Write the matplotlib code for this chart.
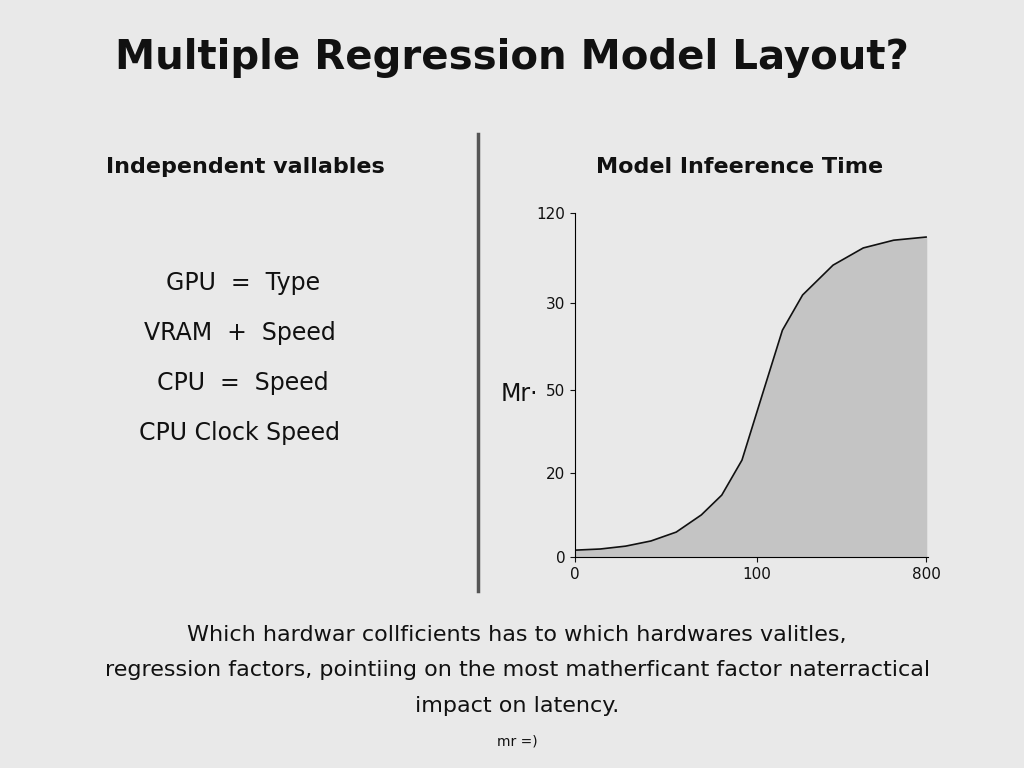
import matplotlib
matplotlib.use("Agg")
import matplotlib.pyplot as plt

curve_x = [0, 13.9, 27.8, 41.7, 55.6, 69.4, 80.6, 91.7, 102.8, 113.9, 125, 141.7, 158.3, 175, 192.8]
curve_y = [2.4, 2.8, 3.8, 5.6, 8.7, 14.7, 21.6, 33.8, 56.5, 79.1, 91.4, 101.8, 107.8, 110.5, 111.6]
ytick_pos = [0, 29.3, 58.3, 88.6, 120]
ytick_labels = ["0", "20", "50", "30", "120"]
xtick_pos = [0, 100, 192.8]
xtick_labels = ["0", "100", "800"]
variables = ["GPU  =  Type", "VRAM  +  Speed", "CPU  =  Speed", "CPU Clock Speed"]

bg = "#e9e9e9"
fig = plt.figure(figsize=(10.24, 7.68), dpi=100, facecolor=bg)
fig.text(0.5, 0.925, "Multiple Regression Model Layout?", ha="center", va="center",
         fontsize=29, fontweight="bold", color="#111")
fig.text(0.24, 0.783, "Independent vallables", ha="center", va="center", fontsize=16, fontweight="bold", color="#111")
fig.text(0.722, 0.783, "Model Infeerence Time", ha="center", va="center", fontsize=16, fontweight="bold", color="#111")
ys = [0.632, 0.566, 0.501, 0.436]
xs = [0.237, 0.234, 0.237, 0.234]
for t, x, y in zip(variables, xs, ys):
    fig.text(x, y, t, ha="center", va="center", fontsize=17, color="#111")
fig.add_artist(plt.Line2D([0.467, 0.467], [0.23, 0.825], color="#555", lw=2.5))
fig.text(0.507, 0.487, "Mr·", ha="center", va="center", fontsize=17, color="#111")

caption = ["Which hardwar collficients has to which hardwares valitles,",
           "regression factors, pointiing on the most matherficant factor naterractical",
           "impact on latency."]
for i, c in enumerate(caption):
    fig.text(0.505, 0.173 - i * 0.046, c, ha="center", va="center", fontsize=16, color="#111")
fig.text(0.505, 0.035, "mr =)", ha="center", va="center", fontsize=10, color="#111")

ax = fig.add_axes([0.5615, 0.2747, 0.345, 0.448])
ax.set_facecolor(bg)
ax.fill_between(curve_x, curve_y, 0, color="#c4c4c4")
ax.plot(curve_x, curve_y, color="#111", lw=1.2)
ax.set_xlim(0, 194)
ax.set_ylim(0, 120)
ax.set_yticks(ytick_pos)
ax.set_yticklabels(ytick_labels)
ax.set_xticks(xtick_pos)
ax.set_xticklabels(xtick_labels)
ax.tick_params(labelsize=11, colors="#111")
for s in ["top", "right"]:
    ax.spines[s].set_visible(False)
fig.savefig("out.png", dpi=100, facecolor=bg)
